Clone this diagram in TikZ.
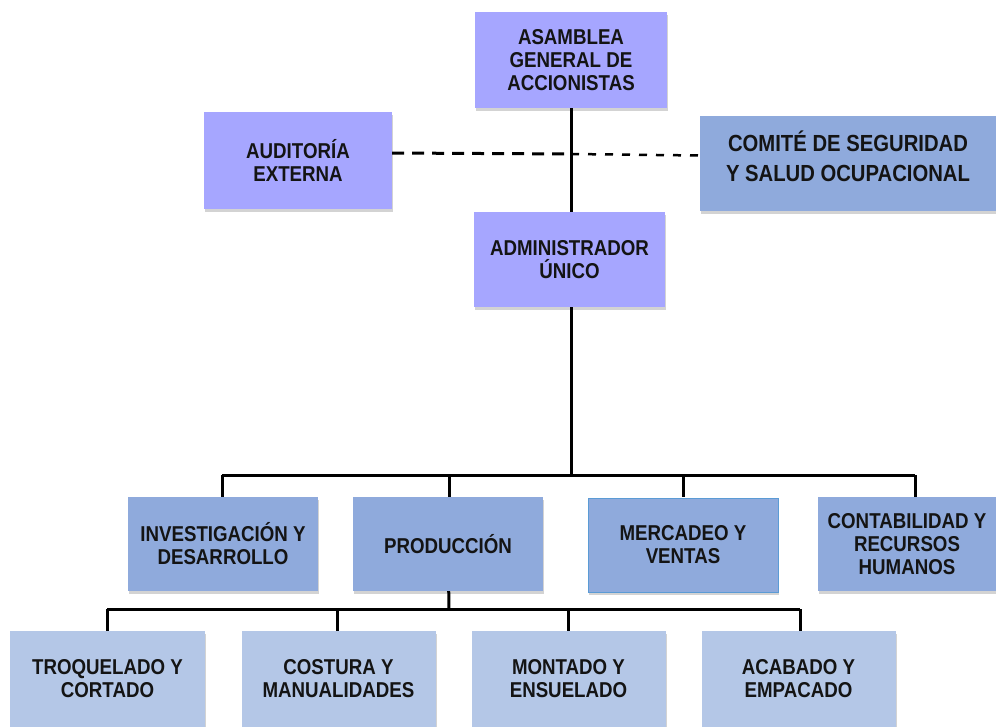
\documentclass[tikz,border=0pt]{standalone}
\usepackage{fontspec}
\setmainfont{Liberation Sans}[FakeStretch=0.87]
\usetikzlibrary{shadows}

\definecolor{lila}{RGB}{166,166,255}
\definecolor{azul}{RGB}{143,170,220}
\definecolor{celeste}{RGB}{180,199,231}
\definecolor{borde}{RGB}{91,155,213}
\definecolor{texto}{RGB}{20,20,20}

\begin{document}
\begin{tikzpicture}
[x=1pt,y=-1pt,every node/.style={rectangle,align=center,inner sep=0pt,text=texto,
  font=\fontsize{21.5}{23}\selectfont\bfseries,
  drop shadow={opacity=0.35,shadow xshift=1pt,shadow yshift=-3pt}},
 jefe/.style={fill=lila,minimum width=192pt,minimum height=96pt},
 depto/.style={fill=azul,minimum width=190pt,minimum height=94pt},
 area/.style={fill=celeste,minimum width=194pt,minimum height=96pt},
 linea/.style={line width=3pt,black}]

\useasboundingbox (0,0) rectangle (996,726);

\node[jefe] (asam) at (571,60) {ASAMBLEA\\GENERAL DE\\ACCIONISTAS};
\node[jefe,minimum width=188pt,minimum height=97pt,drop shadow={opacity=0}] (aud) at (298,160.5) {AUDITORÍA\\EXTERNA};
\node[fill=azul,minimum width=296pt,minimum height=95pt,drop shadow={opacity=0},
  font=\fontsize{23.3}{30}\selectfont\bfseries] (com) at (848,163.5) {COMITÉ DE SEGURIDAD\\Y SALUD OCUPACIONAL\\[-15pt]{}};
\node[jefe,minimum width=191pt,minimum height=95pt] (adm) at (569.5,259.5) {ADMINISTRADOR\\ÚNICO};

\node[depto] (inv) at (223,544) {INVESTIGACIÓN Y\\DESARROLLO};
\node[depto] (prod) at (448,544) {PRODUCCIÓN};
\node[depto,draw=borde,line width=1pt] (merc) at (683,545) {MERCADEO Y\\VENTAS};
\node[depto,minimum width=178pt] (cont) at (907,544) {CONTABILIDAD Y\\RECURSOS\\HUMANOS};

\node[area,minimum width=195pt] (trq) at (107.5,678.5) {TROQUELADO Y\\CORTADO};
\node[area] (cos) at (338.5,678.5) {COSTURA Y\\MANUALIDADES};
\node[area] (mon) at (568.5,678.5) {MONTADO Y\\ENSUELADO};
\node[area] (aca) at (798.5,678.5) {ACABADO Y\\EMPACADO};

\coordinate (cruce) at (571,154);
\coordinate (bus) at (571,475);
\coordinate (bus2) at (449,609);

\draw[linea] (asam) -- (571,212);
\draw[linea] (571,307) -- (bus);
\draw[linea] (222,475) -- (915,475);
\foreach \n/\x in {inv/222,prod/449,merc/683,cont/915}
\draw[linea] (\x,475) -- (\x,497);

\draw[linea] (prod) -- (bus2);
\draw[linea] (107,609) -- (800,609);
\foreach \n/\x in {trq/107,cos/337,mon/568,aca/800}
\draw[linea] (\x,609) -- (\x,630.5);

\draw[line width=3pt,dash pattern=on 12pt off 8pt] (aud.east |- 0,153) -- (cruce);
\draw[line width=2.5pt,dash pattern=on 8pt off 9pt] (cruce) -- (com.west |- 0,155.5);

\end{tikzpicture}
\end{document}
